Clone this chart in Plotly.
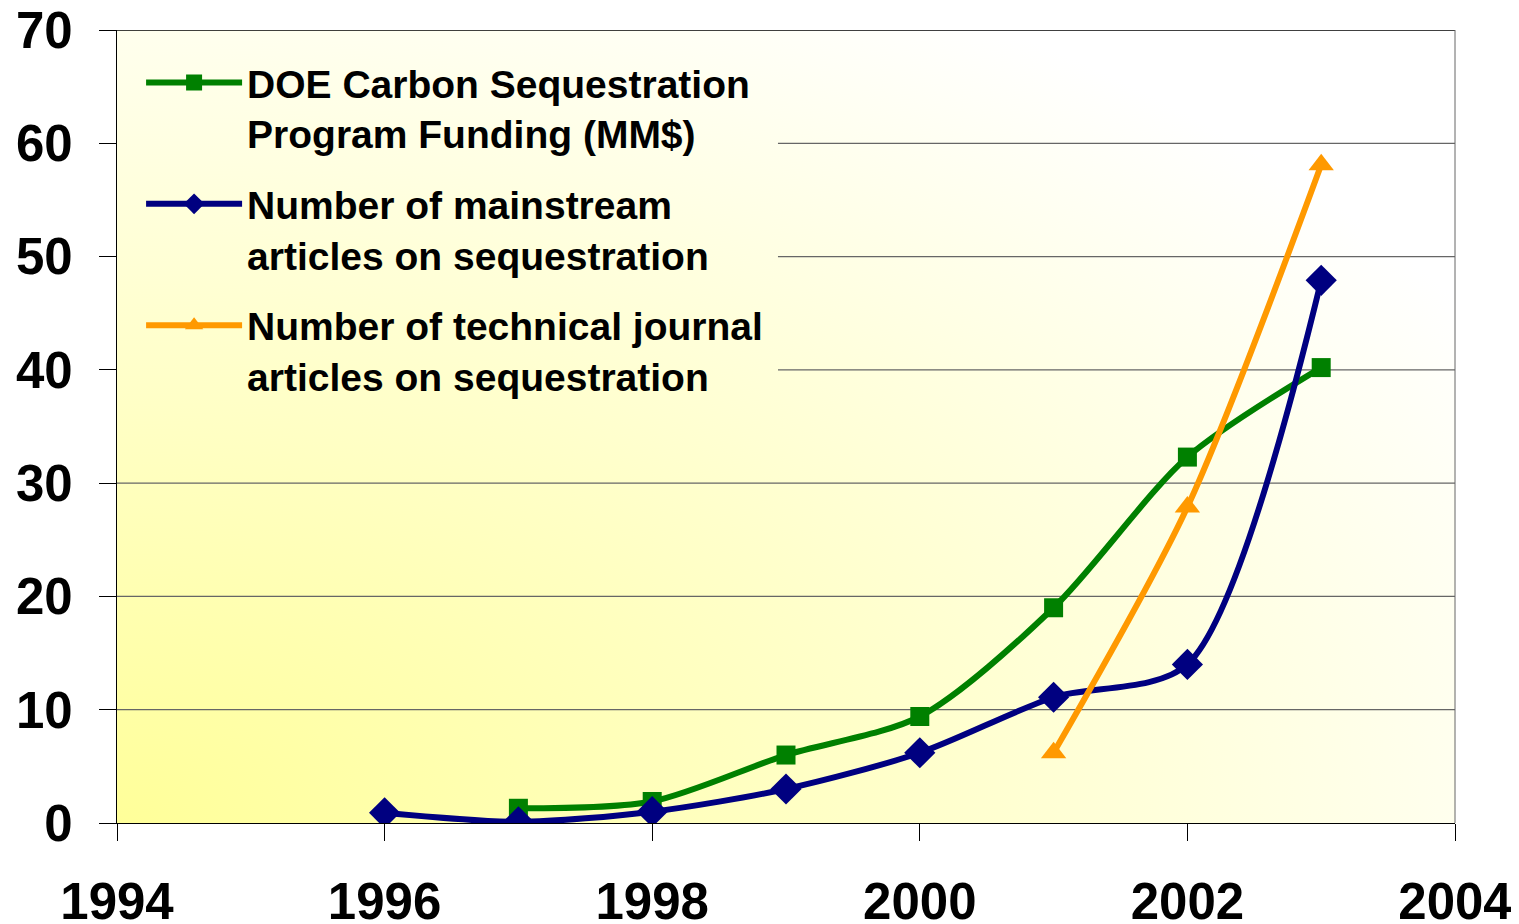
import base64
import plotly.graph_objects as go

# ---- data ----
funding_years = [1997, 1998, 1999, 2000, 2001, 2002, 2003]
funding_values = [1.3, 1.9, 6.0, 9.4, 19.0, 32.3, 40.2]

mainstream_years = [1996, 1997, 1998, 1999, 2000, 2001, 2002, 2003]
mainstream_values = [0.9, 0.1, 1.0, 3.0, 6.2, 11.1, 14.0, 47.9]

technical_years = [2001, 2002, 2003]
technical_values = [6.2, 27.9, 58.1]

series_names = [
    "DOE Carbon Sequestration<br>Program Funding (MM$)",
    "Number of mainstream<br>articles on sequestration",
    "Number of technical journal<br>articles on sequestration",
]

x_ticks = [1994, 1996, 1998, 2000, 2002, 2004]
y_ticks = [0, 10, 20, 30, 40, 50, 60, 70]

FONT = "Liberation Sans, Arial, sans-serif"

# gradient background (bottom-left yellow -> top-right white)
svg = (
    '<svg xmlns="http://www.w3.org/2000/svg" width="100" height="100" '
    'viewBox="0 0 100 100" preserveAspectRatio="none">'
    '<defs><radialGradient id="g" gradientUnits="objectBoundingBox" '
    'cx="0" cy="1" r="1.2" fx="0" fy="1">'
    '<stop offset="0" stop-color="#FFFF99"/>'
    '<stop offset="1" stop-color="#FFFFFF"/>'
    '</radialGradient></defs>'
    '<rect x="0" y="0" width="100" height="100" fill="url(#g)"/></svg>'
)
svg_uri = "data:image/svg+xml;base64," + base64.b64encode(svg.encode()).decode()

fig = go.Figure()

fig.add_trace(go.Scatter(
    x=funding_years, y=funding_values, name=series_names[0],
    mode="lines+markers", line=dict(color="#008000", width=6, shape="spline", smoothing=0.8),
    marker=dict(symbol="square", size=19, color="#008000"),
    legendgroup="a",
))
fig.add_trace(go.Scatter(
    x=mainstream_years, y=mainstream_values, name=series_names[1],
    mode="lines+markers", line=dict(color="#000080", width=6, shape="spline", smoothing=0.8),
    marker=dict(symbol="diamond", size=24, color="#000080"),
    legendgroup="b",
))
fig.add_trace(go.Scatter(
    x=technical_years, y=technical_values, name=series_names[2],
    mode="lines+markers", line=dict(color="#FF9900", width=6, shape="spline", smoothing=0.8),
    marker=dict(symbol="triangle-up", size=22, color="#FF9900"),
    legendgroup="c",
))

shapes = []
legend_right = 0.494
for yv in y_ticks[1:-1]:
    x0 = legend_right if yv >= 40 else 0
    shapes.append(dict(type="line", xref="paper", yref="y", x0=x0, x1=1, y0=yv, y1=yv,
                       line=dict(color="#666666", width=1.3), layer="below"))
shapes.append(dict(type="line", xref="paper", yref="y", x0=0, x1=1, y0=70, y1=70,
                   line=dict(color="black", width=1.3), layer="below"))
shapes.append(dict(type="line", xref="paper", yref="paper", x0=1, x1=1, y0=0, y1=1,
                   line=dict(color="#666666", width=1), layer="above"))

fig.update_layout(
    width=1511, height=916,
    margin=dict(l=109, r=64, t=22, b=101),
    paper_bgcolor="white", plot_bgcolor="white",
    font=dict(family=FONT, color="black"),
    showlegend=True,
    legend=dict(
        x=0.018, y=0.974, xanchor="left", yanchor="top",
        bgcolor="rgba(0,0,0,0)", borderwidth=0,
        font=dict(family=FONT, size=39, weight="bold", color="black"),
        tracegroupgap=17, itemwidth=96, valign="top",
    ),
    images=[dict(source=svg_uri, xref="paper", yref="paper", x=0, y=1, sizex=1, sizey=1,
                 xanchor="left", yanchor="top", sizing="stretch", layer="below")],
    shapes=shapes,
    xaxis=dict(
        range=[1994, 2004], tickvals=x_ticks, ticktext=[str(v) for v in x_ticks],
        showgrid=False, zeroline=False, showline=True, linecolor="black", linewidth=1.3,
        ticks="outside", ticklen=17, tickcolor="black", tickwidth=1,
        tickfont=dict(family=FONT, size=51, weight="bold", color="black"),
        ticklabelstandoff=17, automargin=False, ticklabeloverflow="allow",
    ),
    yaxis=dict(
        range=[0, 70], tickvals=y_ticks,
        showgrid=False, zeroline=False, showline=True, linecolor="black", linewidth=1.3,
        ticks="outside", ticklen=17, tickcolor="black", tickwidth=1,
        tickfont=dict(family=FONT, size=51, weight="bold", color="black"),
        ticklabelstandoff=16, automargin=False, ticklabeloverflow="allow",
    ),
)

fig.write_html("out.html")
